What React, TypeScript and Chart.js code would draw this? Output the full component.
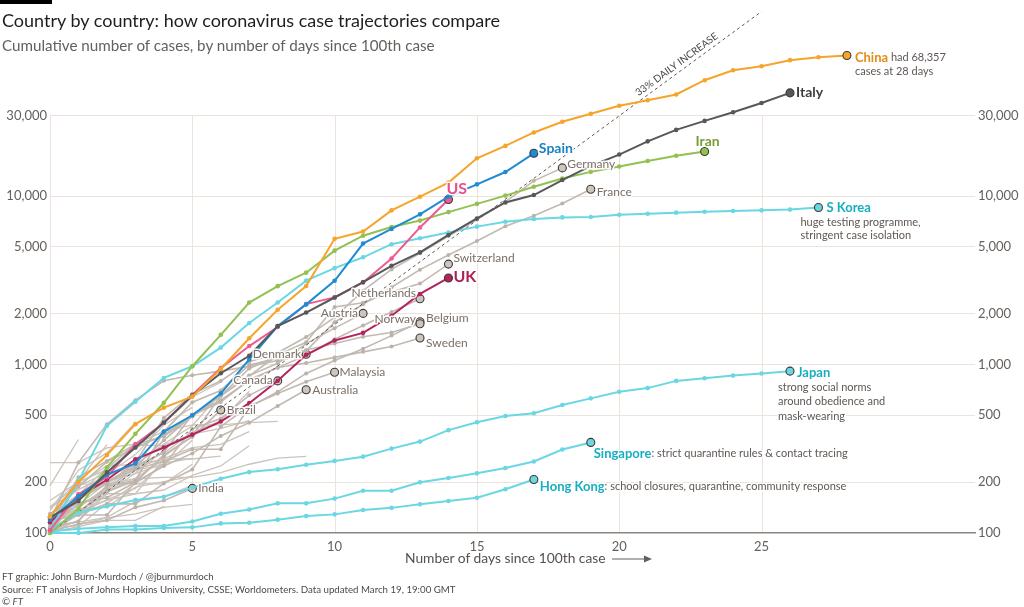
import React, { useEffect, useRef } from "react";
import { Chart, registerables } from "chart.js";

Chart.register(...registerables);

// ---------------- data ----------------
const xTickValues = [0, 5, 10, 15, 20, 25];
const yTickValues = [100, 200, 500, 1000, 2000, 5000, 10000, 30000];
const yAxisMin = 100;
const yAxisMax = 124000; // top of plotting space (lines run above the 30,000 gridline)
const yGridTop = 30000;

// cumulative cases, index = days since 100th case
const china = [125, 201, 290, 443, 555, 645, 941, 1434, 2118, 2927, 5578, 6166, 8234, 9927, 12038, 16787, 19881, 23892, 27636, 30818, 34392, 37121, 40151, 48800, 55900, 59100, 64200, 66800, 68357];
const italy = [124, 155, 229, 322, 453, 655, 888, 1128, 1694, 2036, 2502, 3089, 3858, 4636, 5883, 7375, 9172, 10149, 12462, 15113, 17660, 21157, 24747, 27980, 31506, 35713, 41035];
const spain = [120, 165, 222, 259, 400, 500, 673, 1073, 1695, 2277, 3146, 5232, 6391, 7798, 9942, 11748, 13910, 17963];
const us = [104, 170, 215, 337, 450, 659, 953, 1288, 1670, 2286, 2505, 3074, 4267, 6520, 9560];
const iran = [100, 139, 245, 388, 593, 978, 1501, 2336, 2922, 3513, 4747, 5823, 6566, 7161, 8042, 9000, 10075, 11364, 12729, 13938, 14991, 16169, 17361, 18407];
const skorea = [104, 204, 433, 602, 833, 977, 1261, 1766, 2337, 3150, 3736, 4335, 5186, 5621, 6088, 6593, 7041, 7314, 7478, 7513, 7755, 7869, 7979, 8086, 8162, 8236, 8320, 8565];
const japan = [105, 132, 144, 157, 164, 186, 210, 230, 239, 254, 268, 284, 317, 349, 408, 455, 495, 514, 575, 630, 690, 725, 800, 830, 860, 885, 914];
const singapore = [102, 106, 108, 110, 110, 117, 130, 138, 150, 150, 160, 178, 178, 200, 212, 226, 243, 266, 313, 345];
const hongKong = [100, 100, 105, 105, 107, 108, 114, 115, 120, 126, 129, 137, 141, 148, 155, 162, 182, 208];
const uk = [116, 164, 207, 274, 322, 384, 459, 590, 801, 1143, 1391, 1543, 1950, 2626, 3269];

const germany = [130, 159, 196, 262, 482, 670, 799, 1040, 1176, 1457, 1908, 2745, 3675, 4585, 5795, 7272, 9257, 12327, 14720];
const france = [100, 130, 191, 204, 285, 377, 653, 949, 1126, 1209, 1784, 2281, 2876, 3661, 4469, 5423, 6633, 7652, 9043, 10995];
const switzerland = [114, 214, 268, 337, 374, 491, 652, 858, 1139, 1359, 2200, 2330, 2700, 3028, 3950];
const netherlands = [128, 188, 265, 321, 382, 503, 614, 804, 959, 1135, 1413, 1705, 2051, 2460];
const austria = [104, 131, 182, 246, 302, 504, 655, 860, 1018, 1332, 1646, 2013];
const norway = [113, 147, 176, 205, 400, 598, 702, 996, 1090, 1221, 1333, 1463, 1550, 1746];
const belgium = [109, 169, 200, 239, 267, 314, 314, 559, 689, 886, 1058, 1243, 1486, 1795];
const sweden = [101, 161, 203, 248, 355, 500, 599, 814, 961, 1022, 1103, 1190, 1279, 1439];
const denmark = [120, 262, 442, 615, 801, 864, 914, 977, 1057, 1151];
const canada = [108, 117, 193, 198, 252, 415, 478, 657, 800];
const brazil = [121, 151, 162, 200, 291, 372, 537];
const malaysia = [117, 129, 149, 149, 197, 238, 428, 566, 673, 790, 900];
const australia = [107, 128, 128, 200, 250, 297, 377, 452, 568, 709];
const india = [102, 113, 119, 142, 156, 184];

// other countries (unlabelled grey lines)
const qatar = [262, 262, 320, 337, 401, 439, 439, 452, 460];
const bahrain = [110, 195, 195, 210, 214, 214, 228, 256, 278, 285];
const greece = [117, 190, 228, 331, 331, 387, 418, 464];
const czechia = [116, 141, 189, 253, 298, 396, 464, 694];
const israel = [143, 193, 251, 255, 337, 433, 677];
const finland = [109, 156, 225, 244, 277, 321, 336, 400];
const portugal = [112, 169, 245, 331, 448, 642, 785];
const ireland = [129, 169, 223, 292, 438, 557];
const slovenia = [141, 181, 219, 253, 275, 275, 286];
const iceland = [103, 134, 156, 171, 180, 220, 250, 330];
const estonia = [115, 171, 205, 225, 258];
const poland = [103, 119, 177, 238, 251, 355];
const chile = [156, 201, 238, 342];
const luxembourg = [140, 203, 335];
const saudiArabia = [103, 118, 171, 171, 274];
const indonesia = [117, 134, 172, 227, 309];
const thailand = [114, 147, 177, 212, 272];
const egypt = [109, 110, 150, 196, 196, 256];
const philippines = [111, 140, 142, 187, 202, 217];
const pakistan = [136, 236, 299, 454];
const romania = [123, 131, 158, 184, 260, 277];
const iraq = [110, 116, 124, 154, 164, 192];
const kuwait = [104, 112, 123, 130, 142, 148];
const russia = [114, 147, 199];
const sanMarino = [101, 109, 119, 119, 144];
const turkey = [191, 359];

// 33% daily increase guide (two end points)
const guideDays = [0, 25];
const guideValues = [100, 124800];

// ---------------- style ----------------
const FONT = "Lato, 'Open Sans', sans-serif";
const GRID = "#ece3dc";
const TICK = "#66605c";
const GREY_LINE = "#cbc3bc";
const GREY_LAB_LINE = "#c2b9b1";
const GREY_LABEL = "#7b6f67";
const NOTE = "#5f5753";
const TEAL = "#17aebf";
const CYAN = "#6ad7e3";
const EDGE = "#3d3936";

const toPoints = (arr: number[]) => arr.map((v, i) => ({ x: i, y: v }));

function mainSeries(label: string, arr: number[], color: string) {
  const n = arr.length;
  return {
    label,
    data: toPoints(arr),
    borderColor: color,
    backgroundColor: color,
    borderWidth: 2,
    pointRadius: arr.map((_, i) => (i === n - 1 ? 4 : 2.3)),
    pointBackgroundColor: color,
    pointBorderColor: arr.map((_, i) => (i === n - 1 ? EDGE : color)),
    pointBorderWidth: arr.map((_, i) => (i === n - 1 ? 1.1 : 0)),
    tension: 0,
    clip: false,
    order: 0,
  };
}

function greyLabelled(label: string, arr: number[]) {
  const n = arr.length;
  return {
    label,
    data: toPoints(arr),
    borderColor: GREY_LAB_LINE,
    borderWidth: 1.6,
    pointRadius: arr.map((_, i) => (i === n - 1 ? 4 : 2)),
    pointBackgroundColor: arr.map((_, i) => (i === n - 1 ? "#cdc6bf" : "#bbb2aa")),
    pointBorderColor: arr.map((_, i) => (i === n - 1 ? EDGE : "#bbb2aa")),
    pointBorderWidth: arr.map((_, i) => (i === n - 1 ? 1.1 : 0)),
    tension: 0,
    clip: false,
    order: 2,
  };
}

function greySeries(label: string, arr: number[]) {
  return {
    label,
    data: toPoints(arr),
    borderColor: GREY_LINE,
    borderWidth: 1.3,
    pointRadius: 0,
    tension: 0,
    clip: false,
    order: 3,
  };
}

type Part = [string, boolean, number, string];
type Ann = {
  s: number[];
  dx: number;
  dy: number;
  align?: CanvasTextAlign;
  parts: Part[];
  lines?: [string, number, number][];
};

const annotations: Ann[] = [
  { s: china, dx: 8, dy: 2, parts: [["China", true, 13, "#e38c14"], [" had 68,357", false, 11, NOTE]], lines: [["cases at 28 days", 8, 16]] },
  { s: italy, dx: 6, dy: 0, parts: [["Italy", true, 14, "#403c3a"]] },
  { s: spain, dx: 5, dy: -5, parts: [["Spain", true, 14, "#1b80c4"]] },
  { s: germany, dx: 5, dy: -4, parts: [["Germany", false, 12, GREY_LABEL]] },
  { s: france, dx: 6, dy: 3, parts: [["France", false, 12, GREY_LABEL]] },
  { s: iran, dx: 3, dy: -10, align: "center", parts: [["Iran", true, 14, "#7a9c35"]] },
  { s: skorea, dx: 8, dy: 0, parts: [["S Korea", true, 13, TEAL]], lines: [["huge testing programme,", -18, 15], ["stringent case isolation", -18, 28]] },
  { s: us, dx: -2, dy: -11, parts: [["US", true, 16, "#e9508a"]] },
  { s: uk, dx: 5, dy: -1, parts: [["UK", true, 16, "#ae1f55"]] },
  { s: switzerland, dx: 5, dy: -6, parts: [["Switzerland", false, 12, GREY_LABEL]] },
  { s: netherlands, dx: -4, dy: -6, align: "right", parts: [["Netherlands", false, 12, GREY_LABEL]] },
  { s: austria, dx: -5, dy: 0, align: "right", parts: [["Austria", false, 12, GREY_LABEL]] },
  { s: norway, dx: -4, dy: -5, align: "right", parts: [["Norway", false, 12, GREY_LABEL]] },
  { s: belgium, dx: 6, dy: -4, parts: [["Belgium", false, 12, GREY_LABEL]] },
  { s: sweden, dx: 6, dy: 5, parts: [["Sweden", false, 12, GREY_LABEL]] },
  { s: denmark, dx: -5, dy: 0, align: "right", parts: [["Denmark", false, 12, GREY_LABEL]] },
  { s: canada, dx: -5, dy: -1, align: "right", parts: [["Canada", false, 12, GREY_LABEL]] },
  { s: malaysia, dx: 5, dy: 0, parts: [["Malaysia", false, 12, GREY_LABEL]] },
  { s: australia, dx: 6, dy: 0, parts: [["Australia", false, 12, GREY_LABEL]] },
  { s: brazil, dx: 6, dy: 0, parts: [["Brazil", false, 12, GREY_LABEL]] },
  { s: india, dx: 6, dy: 0, parts: [["India", false, 12, GREY_LABEL]] },
  { s: japan, dx: 7, dy: 2, parts: [["Japan", true, 13, TEAL]], lines: [["strong social norms", -12, 16], ["around obedience and", -12, 30.5], ["mask-wearing", -12, 45]] },
  { s: singapore, dx: 3, dy: 11, parts: [["Singapore", true, 13, TEAL], [": strict quarantine rules & contact tracing", false, 11, NOTE]] },
  { s: hongKong, dx: 6, dy: 7, parts: [["Hong Kong", true, 13, TEAL], [": school closures, quarantine, community response", false, 11, NOTE]] },
];

function haloText(ctx: CanvasRenderingContext2D, text: string, x: number, y: number, color: string) {
  ctx.lineJoin = "round";
  ctx.lineWidth = 3;
  ctx.strokeStyle = "rgba(255,255,255,0.92)";
  ctx.strokeText(text, x, y);
  ctx.fillStyle = color;
  ctx.fillText(text, x, y);
}

// vertical gridlines only from the 30,000 line downwards
const gridPlugin = {
  id: "ftGrid",
  beforeDatasetsDraw(chart: any) {
    const ctx: CanvasRenderingContext2D = chart.ctx;
    const xs = chart.scales.x;
    const ys = chart.scales.y;
    const top = Math.round(ys.getPixelForValue(yGridTop));
    const bottom = chart.chartArea.bottom - 1;
    ctx.save();
    ctx.strokeStyle = GRID;
    ctx.lineWidth = 1;
    for (const v of xTickValues) {
      const x = Math.round(xs.getPixelForValue(v)) + 0.5;
      ctx.beginPath();
      ctx.moveTo(x, top);
      ctx.lineTo(x, bottom);
      ctx.stroke();
    }
    ctx.restore();
  },
};

const labelPlugin = {
  id: "ftLabels",
  afterDatasetsDraw(chart: any) {
    const ctx: CanvasRenderingContext2D = chart.ctx;
    const xs = chart.scales.x;
    const ys = chart.scales.y;
    ctx.save();
    ctx.textBaseline = "middle";

    // guide label
    const p0x = xs.getPixelForValue(guideDays[0]);
    const p0y = ys.getPixelForValue(guideValues[0]);
    const p1x = xs.getPixelForValue(guideDays[1]);
    const p1y = ys.getPixelForValue(guideValues[1]);
    const ang = Math.atan2(p1y - p0y, p1x - p0x);
    const t = 0.887;
    const cx = p0x + (p1x - p0x) * t;
    const cy = p0y + (p1y - p0y) * t;
    ctx.save();
    ctx.translate(cx, cy);
    ctx.rotate(ang);
    ctx.font = `10px ${FONT}`;
    ctx.textAlign = "center";
    ctx.fillStyle = "#4a4543";
    ctx.fillText("33% DAILY INCREASE", 0, -7.5);
    ctx.restore();

    for (const a of annotations) {
      const i = a.s.length - 1;
      const ex = xs.getPixelForValue(i);
      const ey = ys.getPixelForValue(a.s[i]);
      const align = a.align || "left";
      let x = ex + a.dx;
      const y = ey + a.dy;
      if (align === "left") {
        ctx.textAlign = "left";
        for (const [txt, bold, size, color] of a.parts) {
          ctx.font = `${bold ? "bold " : ""}${size}px ${FONT}`;
          haloText(ctx, txt, x, y, color);
          x += ctx.measureText(txt).width;
        }
      } else {
        const [txt, bold, size, color] = a.parts[0];
        ctx.textAlign = align;
        ctx.font = `${bold ? "bold " : ""}${size}px ${FONT}`;
        haloText(ctx, txt, x, y, color);
      }
      if (a.lines) {
        ctx.textAlign = "left";
        ctx.font = `11px ${FONT}`;
        for (const [txt, ldx, ldy] of a.lines) {
          haloText(ctx, txt, ex + ldx, ey + ldy, NOTE);
        }
      }
    }
    ctx.restore();
  },
};

function buildConfig(): any {
  const datasets: any[] = [
    mainSeries("China", china, "#f5a42c"),
    mainSeries("Italy", italy, "#58585a"),
    mainSeries("Spain", spain, "#1f8bd3"),
    mainSeries("US", us, "#ee5b90"),
    mainSeries("Iran", iran, "#92c152"),
    mainSeries("S Korea", skorea, CYAN),
    mainSeries("Japan", japan, CYAN),
    mainSeries("Singapore", singapore, CYAN),
    mainSeries("Hong Kong", hongKong, CYAN),
    mainSeries("UK", uk, "#b4245c"),
    {
      label: "33% daily increase",
      data: guideDays.map((d, i) => ({ x: d, y: guideValues[i] })),
      borderColor: "#5a5552",
      borderWidth: 1,
      borderDash: [3, 3],
      pointRadius: 0,
      clip: false,
      order: 1,
    },
    greyLabelled("Germany", germany),
    greyLabelled("France", france),
    greyLabelled("Switzerland", switzerland),
    greyLabelled("Netherlands", netherlands),
    greyLabelled("Austria", austria),
    greyLabelled("Norway", norway),
    greyLabelled("Belgium", belgium),
    greyLabelled("Sweden", sweden),
    greyLabelled("Denmark", denmark),
    greyLabelled("Canada", canada),
    greyLabelled("Brazil", brazil),
    greyLabelled("Malaysia", malaysia),
    greyLabelled("Australia", australia),
    greyLabelled("India", india),
    greySeries("Qatar", qatar),
    greySeries("Bahrain", bahrain),
    greySeries("Greece", greece),
    greySeries("Czechia", czechia),
    greySeries("Israel", israel),
    greySeries("Finland", finland),
    greySeries("Portugal", portugal),
    greySeries("Ireland", ireland),
    greySeries("Slovenia", slovenia),
    greySeries("Iceland", iceland),
    greySeries("Estonia", estonia),
    greySeries("Poland", poland),
    greySeries("Chile", chile),
    greySeries("Luxembourg", luxembourg),
    greySeries("Saudi Arabia", saudiArabia),
    greySeries("Indonesia", indonesia),
    greySeries("Thailand", thailand),
    greySeries("Egypt", egypt),
    greySeries("Philippines", philippines),
    greySeries("Pakistan", pakistan),
    greySeries("Romania", romania),
    greySeries("Iraq", iraq),
    greySeries("Kuwait", kuwait),
    greySeries("Russia", russia),
    greySeries("San Marino", sanMarino),
    greySeries("Turkey", turkey),
  ];

  const tickFont = { family: FONT, size: 13 };
  const fmt = (v: any) => Number(v).toLocaleString("en-US");

  return {
    type: "line",
    data: { datasets },
    plugins: [gridPlugin, labelPlugin],
    options: {
      animation: false,
      responsive: false,
      maintainAspectRatio: false,
      events: [],
      layout: { padding: { top: 12, left: 0, right: 0, bottom: 0 } },
      plugins: {
        legend: { display: false },
        tooltip: { enabled: false },
        title: { display: false },
      },
      scales: {
        x: {
          type: "linear",
          min: 0,
          max: 32.5,
          afterBuildTicks: (s: any) => {
            s.ticks = xTickValues.map((v) => ({ value: v }));
          },
          afterFit: (s: any) => {
            s.height = 74;
          },
          grid: { display: false, drawTicks: false },
          border: { display: true, color: "#8a847f", width: 1.5 },
          ticks: { color: TICK, font: tickFont, padding: 6, maxRotation: 0, autoSkip: false },
        },
        y: {
          type: "logarithmic",
          position: "left",
          min: yAxisMin,
          max: yAxisMax,
          afterBuildTicks: (s: any) => {
            s.ticks = yTickValues.map((v) => ({ value: v }));
          },
          afterFit: (s: any) => {
            s.width = 50;
          },
          grid: {
            color: (c: any) => (c.tick && c.tick.value === 100 ? "rgba(0,0,0,0)" : GRID),
            lineWidth: 1,
            drawTicks: false,
          },
          border: { display: false },
          ticks: { color: TICK, font: tickFont, padding: 3, callback: fmt, autoSkip: false },
        },
        y2: {
          type: "logarithmic",
          position: "right",
          min: yAxisMin,
          max: yAxisMax,
          afterBuildTicks: (s: any) => {
            s.ticks = yTickValues.map((v) => ({ value: v }));
          },
          afterFit: (s: any) => {
            s.width = 49;
          },
          grid: { display: false, drawTicks: false },
          border: { display: false },
          ticks: { color: TICK, font: tickFont, padding: 3, callback: fmt, autoSkip: false },
        },
      },
    },
  };
}

export default function App() {
  const ref = useRef<HTMLCanvasElement>(null);

  useEffect(() => {
    document.body.style.margin = "0";
    const chart = new Chart(ref.current as HTMLCanvasElement, buildConfig());
    return () => chart.destroy();
  }, []);

  const abs = (o: React.CSSProperties): React.CSSProperties => ({ position: "absolute", whiteSpace: "nowrap", ...o });
  const foot: React.CSSProperties = { fontSize: 9.7, lineHeight: "13px", color: "#4f4945" };

  return (
    <div style={{ position: "relative", width: 1024, height: 607, background: "#fff", overflow: "hidden", fontFamily: FONT }}>
      <canvas ref={ref} width={1024} height={607} style={{ position: "absolute", left: 0, top: 0, display: "block" }} />
      <div style={abs({ left: 0, top: 0, width: 52, height: 4, background: "#000" })} />
      <div style={abs({ left: 2, top: 10, fontSize: 18, lineHeight: "21px", color: "#1e1e1e" })}>
        Country by country: how coronavirus case trajectories compare
      </div>
      <div style={abs({ left: 2, top: 36, fontSize: 15.2, lineHeight: "19px", color: "#66605c" })}>
        Cumulative number of cases, by number of days since 100th case
      </div>
      <div style={abs({ left: 405, top: 550, fontSize: 13.8, lineHeight: "16px", color: "#57504c" })}>
        Number of days since 100th case
      </div>
      <svg style={abs({ left: 612, top: 553 })} width={40} height={12}>
        <line x1={0} y1={6} x2={34} y2={6} stroke="#66605c" strokeWidth={1.2} />
        <polygon points="32,2.5 40,6 32,9.5" fill="#66605c" />
      </svg>
      <div style={abs({ left: 2, top: 570, ...foot })}>FT graphic: John Burn-Murdoch / @jburnmurdoch</div>
      <div style={abs({ left: 2, top: 583, ...foot })}>
        Source: FT analysis of Johns Hopkins University, CSSE; Worldometers. Data updated March 19, 19:00 GMT
      </div>
      <div style={abs({ left: 2, top: 595, ...foot })}>
        © <i>FT</i>
      </div>
    </div>
  );
}
